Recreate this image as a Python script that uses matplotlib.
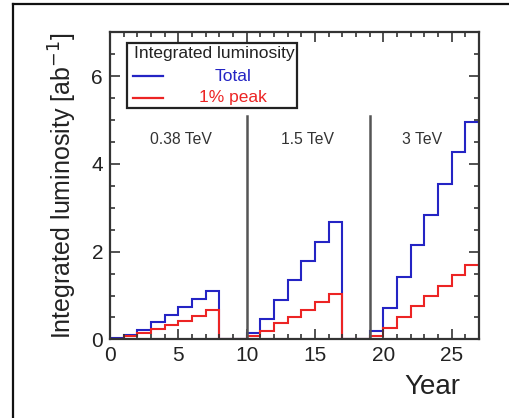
import matplotlib.pyplot as plt
from matplotlib.patches import Rectangle
from matplotlib.lines import Line2D
from matplotlib.ticker import MultipleLocator

plt.rcParams['font.family'] = ['Liberation Sans', 'DejaVu Sans']

# yearly integrated luminosity (ab^-1), one value per year bin
years = list(range(28))
total = [0.03, 0.10, 0.21, 0.39, 0.55, 0.73, 0.91, 1.10, 0, 0,
         0.14, 0.46, 0.90, 1.35, 1.79, 2.22, 2.68, 0, 0,
         0.19, 0.72, 1.43, 2.14, 2.84, 3.55, 4.26, 4.96]
peak = [0.02, 0.07, 0.14, 0.23, 0.33, 0.42, 0.54, 0.67, 0, 0,
        0.08, 0.19, 0.37, 0.52, 0.68, 0.86, 1.03, 0, 0,
        0.08, 0.25, 0.50, 0.75, 0.99, 1.22, 1.46, 1.69]
stage_edges = [10, 19]
stage_labels = ['0.38 TeV', '1.5 TeV', '3 TeV']
stage_label_x = [5.2, 14.45, 22.8]

blue = '#2424c4'
red = '#ec2424'

fig = plt.figure(figsize=(5.1, 4.18), dpi=100)
ax = fig.add_axes([0.2157, 0.188, 0.7235, 0.735])

ax.stairs(total, years, color=blue, lw=1.5, baseline=None)
ax.stairs(peak, years, color=red, lw=1.5, baseline=None)

for xe in stage_edges:
    ax.plot([xe, xe], [0, 5.1], color='#555555', lw=1.8)
for lab, xl in zip(stage_labels, stage_label_x):
    ax.text(xl, 4.56, lab, ha='center', va='center', fontsize=11.3, color='#333333')

ax.set_xlim(0, 27)
ax.set_ylim(0, 7)
ax.xaxis.set_major_locator(MultipleLocator(5))
ax.xaxis.set_minor_locator(MultipleLocator(1))
ax.yaxis.set_major_locator(MultipleLocator(2))
ax.yaxis.set_minor_locator(MultipleLocator(0.5))
ax.tick_params(which='both', direction='in', top=True, right=True,
               color='#333333', width=1.2)
ax.tick_params(which='major', length=7, labelsize=15, pad=5, labelcolor='#222222')
ax.tick_params(which='minor', length=3.5)
for s in ax.spines.values():
    s.set_linewidth(1.6)
    s.set_color('#333333')

ax.set_ylabel('Integrated luminosity [ab$^{-1}$]', fontsize=18, labelpad=9, color='#222222')
fig.text(432 / 510, 1 - 387 / 418, 'Year', ha='center', va='center', fontsize=20, color='#222222')

# legend box drawn by hand
ax.add_patch(Rectangle((0.046, 0.753), 0.461, 0.212, transform=ax.transAxes,
                       fill=True, facecolor='white', edgecolor='#222222', lw=1.6, zorder=5))
ax.text(0.066, 0.931, 'Integrated luminosity', transform=ax.transAxes,
        ha='left', va='center', fontsize=12.5, color='#222222', zorder=6)
ax.add_line(Line2D([0.063, 0.144], [0.857, 0.857], transform=ax.transAxes, color=blue, lw=1.6, zorder=6))
ax.add_line(Line2D([0.063, 0.144], [0.787, 0.787], transform=ax.transAxes, color=red, lw=1.6, zorder=6))
ax.text(0.334, 0.857, 'Total', transform=ax.transAxes, ha='center', va='center',
        fontsize=12.5, color=blue, zorder=6)
ax.text(0.334, 0.787, '1% peak', transform=ax.transAxes, ha='center', va='center',
        fontsize=12.5, color=red, zorder=6)

# outer frame (runs off the bottom and right of the picture)
fig.add_artist(Line2D([13 / 510, 13 / 510], [-0.1, 1 - 4 / 418], transform=fig.transFigure, color='#111111', lw=1.6))
fig.add_artist(Line2D([13 / 510, 1.1], [1 - 4 / 418, 1 - 4 / 418], transform=fig.transFigure, color='#111111', lw=1.6))

fig.savefig('out.png', dpi=100)
